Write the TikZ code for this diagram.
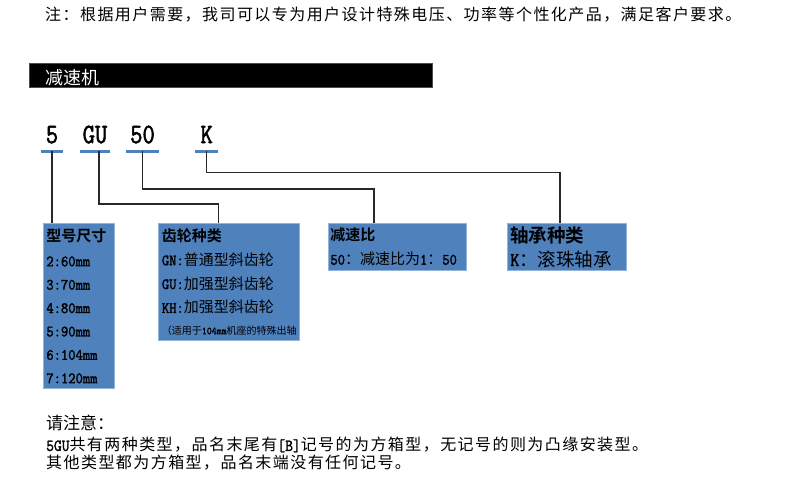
\documentclass[tikz,border=0pt]{standalone}
\usepackage{fontspec}
\setmainfont{Noto Sans CJK SC}[BoldFont={Noto Sans CJK SC Bold}]
\newfontfamily\notefont{Noto Sans CJK SC}[LetterSpace=9]
\newfontfamily\halffont{Latin Modern Mono}[Scale=1.05, FakeStretch=0.9, FakeBold=1.8]
\newfontfamily\codefont{Latin Modern Mono}[FakeStretch=0.85, FakeBold=2]
\newcommand{\half}[1]{{\halffont #1}}
\definecolor{boxblue}{RGB}{79,129,189}
\definecolor{boxedge}{RGB}{149,179,215}
\definecolor{wirecol}{RGB}{40,40,40}

\begin{document}
\begin{tikzpicture}[
    x=1pt, y=-1pt,
    box/.style={rectangle, draw=boxedge, fill=boxblue, line width=0.8pt, anchor=north west,
        inner xsep=3pt, inner ysep=0pt, align=left, font=\fontsize{15}{23.4}\selectfont},
    code/.style={font=\codefont\fontsize{28}{28}\selectfont, inner sep=0pt, text depth=7.7pt, anchor=south},
    uline/.style={draw=boxblue, line width=3pt},
    wire/.style={draw=wirecol, line width=1.3pt},
    note/.style={anchor=west, inner sep=0pt, font=\notefont\fontsize{16}{16}\selectfont},
    bar/.style={rectangle, fill=black, draw=black!70, anchor=north west, inner sep=0pt}
]
\useasboundingbox (0,0) rectangle (800,483);

% Top remark
\node[note] (remark) at (45,15) {注：根据用户需要，我司可以专为用户设计特殊电压、功率等个性化产品，满足客户要求。};

% Title bar
\node[bar, minimum width=403pt, minimum height=24pt] (titlebar) at (29,63) {};
\node[anchor=west, inner sep=0pt, text=white, font=\fontsize{18}{18}\selectfont] (title) at (45,77.5) {减速机};

% Model code
\node[code, minimum width=21pt] (five) at (52,151) {5};
\node[code, minimum width=29pt] (gu) at (95,151) {GU};
\node[code, minimum width=32pt] (fifty) at (142.5,151) {50};
\node[code, minimum width=23pt] (k) at (206.7,151) {K};
\draw[uline] (five.south west) -- (five.south east);
\draw[uline] (gu.south west) -- (gu.south east);
\draw[uline] (fifty.south west) -- (fifty.south east);
\draw[uline] (k.south west) -- (k.south east);

% Explanation boxes
\node[box, text width=65pt, minimum height=165pt] (size) at (43,223) {
    \textbf{型号尺寸}\\[1.7pt]
    \half{2:60mm}\\
    \half{3:70mm}\\
    \half{4:80mm}\\
    \half{5:90mm}\\
    \half{6:104mm}\\
    \half{7:120mm}
};
\node[box, text width=134pt, minimum height=117pt, inner xsep=3.5pt,
    font=\fontsize{15}{23.8}\selectfont] (gear) at (158,223) {
    \textbf{齿轮种类}\\
    \half{GN:}普通型斜齿轮\\
    \half{GU:}加强型斜齿轮\\
    \half{KH:}加强型斜齿轮\\[-2.5pt]
    {\fontsize{10}{10}\selectfont （适用于\half{104mm}机座的特殊出轴}
};
\node[box, text width=134pt, minimum height=47pt, inner xsep=2pt,
    font=\fontsize{15}{24}\selectfont] (ratio) at (328,223) {
    \textbf{减速比}\\
    \half{50}：减速比为\half{1}：\half{50}
};
\node[box, text width=113pt, minimum height=47pt,
    font=\fontsize{18.5}{24}\selectfont] (bearing) at (507,223) {
    \textbf{轴承种类}\\
    \half{K}：滚珠轴承
};

% Connectors
\coordinate (gear turn) at (218.5,204);
\coordinate (ratio turn) at (374,189);
\coordinate (bearing turn) at (560,172.5);
\draw[wire] (five.south) -- (five.south |- size.north);
\draw[wire] ([xshift=4pt]gu.south) |- (gear turn) -- (gear turn |- gear.north);
\draw[wire] (fifty.south) |- (ratio turn) -- (ratio turn |- ratio.north);
\draw[wire] (k.south) |- (bearing turn) -- (bearing turn |- bearing.north);

% Bottom remarks
\node[anchor=west, inner sep=0pt, font=\fontsize{17}{17}\selectfont] (attention) at (46,423) {请注意：};
\node[note] (line one) at (46,445) {\half{5GU}共有两种类型，品名末尾有\half{[B]}记号的为方箱型，无记号的则为凸缘安装型。};
\node[note] (line two) at (46,463) {其他类型都为方箱型，品名末端没有任何记号。};

\end{tikzpicture}
\end{document}
